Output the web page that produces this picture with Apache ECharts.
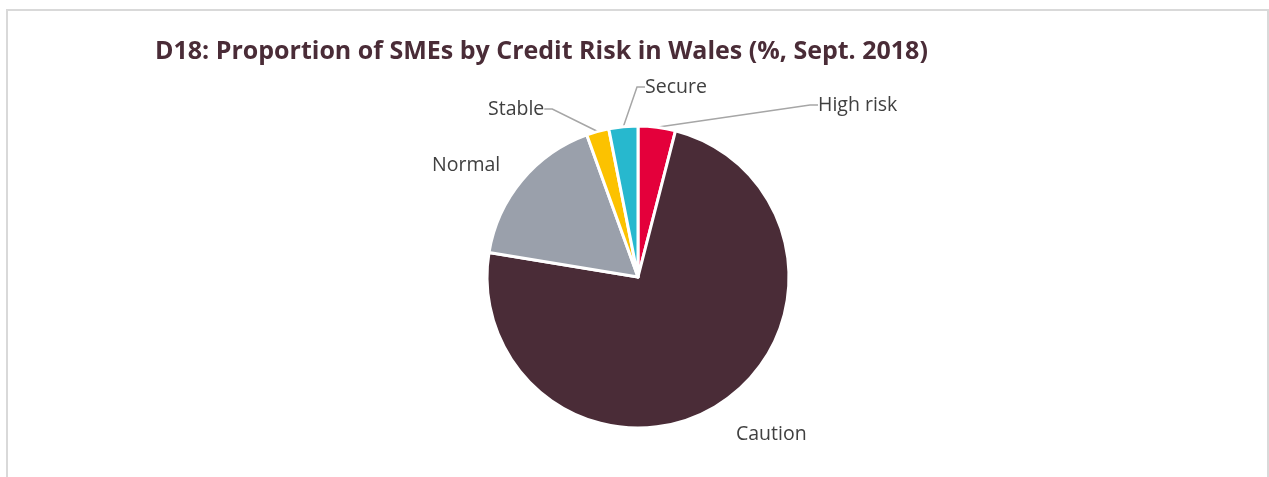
<!DOCTYPE html>
<html>
<head>
<meta charset="utf-8">
<style>
  html, body { margin: 0; padding: 0; background: #ffffff; }
  #chart { width: 1269px; height: 477px; }
</style>
<script src="https://cdn.jsdelivr.net/npm/echarts@6/dist/echarts.min.js"></script>
</head>
<body>
<div id="chart"></div>
<script>
// Credit risk bands, clockwise from 12 o'clock
const categories = ['High risk', 'Caution', 'Normal', 'Stable', 'Secure'];
const shares = [4.0, 73.6, 16.9, 2.4, 3.1];
const sliceColors = ['#e4003b', '#4a2c37', '#9aa0ab', '#fcc200', '#27b8ce'];

// Where each category label sits (left edge x, vertical centre y)
const labelSpots = [
  { x: 818, y: 105, line: true },
  { x: 736, y: 434, line: false },
  { x: 432, y: 165, line: false },
  { x: 488, y: 109, line: true },
  { x: 645, y: 87, line: true }
];

const chart = echarts.init(document.getElementById('chart'), null, { renderer: 'canvas' });

chart.setOption({
  animation: false,
  backgroundColor: '#ffffff',
  title: {
    text: 'D18: Proportion of SMEs by Credit Risk in Wales (%, Sept. 2018)',
    left: 150,
    top: 34,
    textStyle: {
      fontFamily: 'Open Sans',
      fontWeight: 'bold',
      fontSize: 25,
      color: '#4a2c37'
    }
  },
  graphic: [{
    type: 'rect',
    shape: { x: 7, y: 10, width: 1261, height: 480 },
    style: { fill: 'none', stroke: '#d9d9d9', lineWidth: 2 },
    silent: true
  }],
  series: [{
    type: 'pie',
    center: [638, 277],
    radius: 151,
    startAngle: 90,
    clockwise: true,
    avoidLabelOverlap: false,
    itemStyle: { borderColor: '#ffffff', borderWidth: 3 },
    label: {
      show: true,
      formatter: '{b}',
      fontFamily: 'Open Sans',
      fontSize: 19.5,
      color: '#404040'
    },
    labelLine: {
      show: true,
      length: 10,
      length2: 8,
      lineStyle: { color: '#a6a6a6', width: 1.5 }
    },
    labelLayout: function (params) {
      const s = labelSpots[params.dataIndex];
      return { x: s.x, y: s.y, align: 'left', verticalAlign: 'middle' };
    },
    data: categories.map(function (name, i) {
      return {
        name: name,
        value: shares[i],
        itemStyle: { color: sliceColors[i] },
        labelLine: { show: labelSpots[i].line }
      };
    })
  }]
});
</script>
</body>
</html>
